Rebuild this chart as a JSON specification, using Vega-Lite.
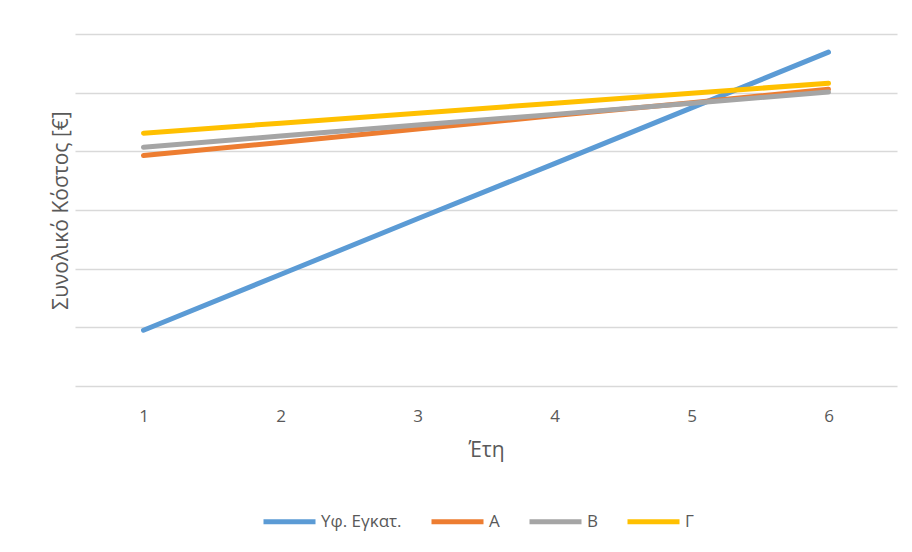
{
  "$schema": "https://vega.github.io/schema/vega-lite/v6.json",
  "width": 822,
  "height": 352,
  "autosize": {"type": "none"},
  "padding": {"left": 75, "top": 34, "right": 15, "bottom": 166},
  "background": "white",
  "data": {
    "values": [
      {"year": "1", "series": "Υφ. Εγκατ.", "cost": 0.95},
      {"year": "2", "series": "Υφ. Εγκατ.", "cost": 1.9},
      {"year": "3", "series": "Υφ. Εγκατ.", "cost": 2.85},
      {"year": "4", "series": "Υφ. Εγκατ.", "cost": 3.79},
      {"year": "5", "series": "Υφ. Εγκατ.", "cost": 4.74},
      {"year": "6", "series": "Υφ. Εγκατ.", "cost": 5.69},
      {"year": "1", "series": "A", "cost": 3.93},
      {"year": "2", "series": "A", "cost": 4.15},
      {"year": "3", "series": "A", "cost": 4.38},
      {"year": "4", "series": "A", "cost": 4.61},
      {"year": "5", "series": "A", "cost": 4.83},
      {"year": "6", "series": "A", "cost": 5.06},
      {"year": "1", "series": "B", "cost": 4.07},
      {"year": "2", "series": "B", "cost": 4.26},
      {"year": "3", "series": "B", "cost": 4.45},
      {"year": "4", "series": "B", "cost": 4.63},
      {"year": "5", "series": "B", "cost": 4.82},
      {"year": "6", "series": "B", "cost": 5.01},
      {"year": "1", "series": "Γ", "cost": 4.31},
      {"year": "2", "series": "Γ", "cost": 4.48},
      {"year": "3", "series": "Γ", "cost": 4.65},
      {"year": "4", "series": "Γ", "cost": 4.82},
      {"year": "5", "series": "Γ", "cost": 4.99},
      {"year": "6", "series": "Γ", "cost": 5.16}
    ]
  },
  "mark": {"type": "line", "strokeWidth": 5, "strokeCap": "round"},
  "encoding": {
    "x": {
      "field": "year",
      "type": "ordinal",
      "title": "Έτη",
      "scale": {"type": "point", "padding": 0.5},
      "axis": {
        "labelAngle": 0,
        "ticks": false,
        "domain": false,
        "grid": false,
        "labelPadding": 22,
        "labelFontSize": 17,
        "labelColor": "#595959",
        "titleFontSize": 21,
        "titleFontWeight": "normal",
        "titleColor": "#595959",
        "titlePadding": 15
      }
    },
    "y": {
      "field": "cost",
      "type": "quantitative",
      "title": "Συνολικό Κόστος [€]",
      "scale": {"domain": [0, 6], "nice": false},
      "axis": {
        "labels": false,
        "ticks": false,
        "domain": false,
        "values": [0, 1, 2, 3, 4, 5, 6],
        "gridColor": "#D9D9D9",
        "gridWidth": 1.3,
        "titleFontSize": 21,
        "titleFontWeight": "normal",
        "titleColor": "#595959",
        "titlePadding": 4
      }
    },
    "color": {
      "field": "series",
      "type": "nominal",
      "sort": ["Υφ. Εγκατ.", "A", "B", "Γ"],
      "scale": {
        "domain": ["Υφ. Εγκατ.", "A", "B", "Γ"],
        "range": ["#5B9BD5", "#ED7D31", "#A5A5A5", "#FFC000"]
      },
      "legend": {
        "title": null,
        "orient": "none",
        "legendX": 186,
        "legendY": 459,
        "direction": "horizontal",
        "symbolType": "stroke",
        "symbolSize": 2704,
        "symbolStrokeWidth": 5,
        "labelFontSize": 17,
        "labelColor": "#595959",
        "labelOffset": 3,
        "columnPadding": 19
      }
    },
    "order": {"field": "series", "sort": "ascending"}
  },
  "config": {
    "font": "Open Sans",
    "view": {"stroke": null}
  }
}
